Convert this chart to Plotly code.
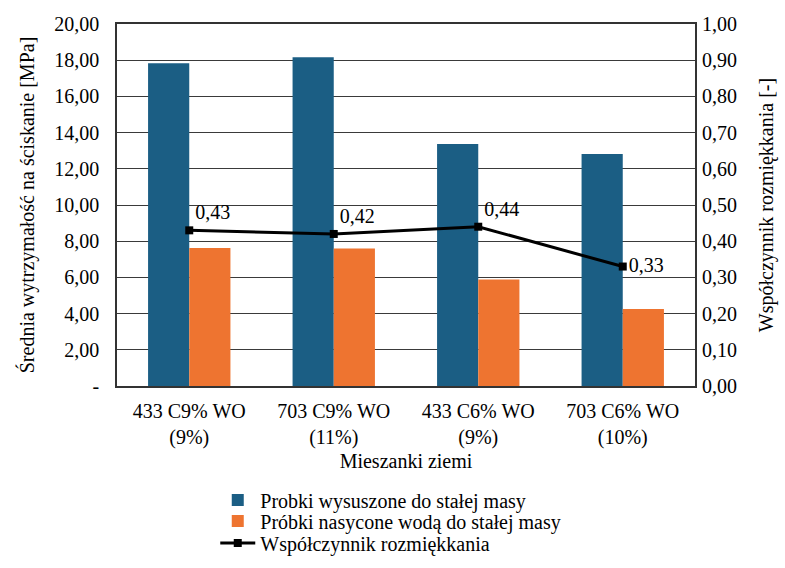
import plotly.graph_objects as go

# Soil mixtures and measured values
categories = ["433 C9% WO<br>(9%)", "703 C9% WO<br>(11%)", "433 C6% WO<br>(9%)", "703 C6% WO<br>(10%)"]
dry_strength = [17.83, 18.16, 13.37, 12.82]        # MPa, dried to constant mass
saturated_strength = [7.62, 7.59, 5.89, 4.25]      # MPa, saturated to constant mass
softening_coef = [0.43, 0.42, 0.44, 0.33]          # softening coefficient [-]

left_ticks = [0, 2, 4, 6, 8, 10, 12, 14, 16, 18, 20]
left_ticktext = ["-", "2,00", "4,00", "6,00", "8,00", "10,00", "12,00", "14,00", "16,00", "18,00", "20,00"]
right_ticks = [0, 0.1, 0.2, 0.3, 0.4, 0.5, 0.6, 0.7, 0.8, 0.9, 1.0]

BLUE = "#1B5E84"
ORANGE = "#EE7430"
FONT = "Liberation Serif"
FS = 20


def tf(size=FS):
    return dict(family=FONT, size=size, color="black")


fig = go.Figure()
fig.add_trace(go.Bar(
    x=categories, y=dry_strength, name="Probki wysuszone do stałej masy",
    marker=dict(color=BLUE, line=dict(width=0)), legend="legend",
))
fig.add_trace(go.Bar(
    x=categories, y=saturated_strength, name="Próbki nasycone wodą do stałej masy",
    marker=dict(color=ORANGE, line=dict(width=0)), legend="legend2",
))
fig.add_trace(go.Scatter(
    x=categories, y=softening_coef, name="Współczynnik rozmiękkania",
    yaxis="y2", mode="lines+markers+text",
    line=dict(color="black", width=3),
    marker=dict(symbol="square", size=8, color="black"),
    text=[f"{v:.2f}".replace(".", ",") for v in softening_coef],
    textposition=["top right", "top right", "top right", "middle right"],
    textfont=tf(20),
    cliponaxis=False, legend="legend3",
))


def legend_row(ypos):
    # one legend row, placed in container coordinates below the plot
    return dict(
        orientation="v", x=0.17, y=ypos, xanchor="left", yanchor="middle",
        xref="paper", yref="container",
        font=tf(), itemwidth=35, bgcolor="rgba(0,0,0,0)",
    )


fig.update_layout(
    width=785, height=568,
    margin=dict(l=117, r=90, t=24, b=182, autoexpand=False),
    paper_bgcolor="white", plot_bgcolor="white",
    font=tf(),
    barmode="group", bargap=0.43, bargroupgap=0,
    xaxis=dict(
        title=dict(text="Mieszanki ziemi", font=tf(), standoff=6),
        showline=True, linecolor="#333", linewidth=1.5, mirror=True,
        ticks="", tickfont=tf(), ticklabelstandoff=6,
    ),
    yaxis=dict(
        title=dict(text="Średnia wytrzymałość na ściskanie [MPa]", font=tf(), standoff=14),
        range=[0, 20], tickvals=left_ticks, ticktext=left_ticktext,
        showgrid=True, gridcolor="#3a3a3a", gridwidth=1.2,
        showline=True, linecolor="#333", linewidth=1.5, mirror=True,
        ticks="", tickfont=tf(), zeroline=False, ticklabelstandoff=12,
    ),
    yaxis2=dict(
        title=dict(text="Współczynnik rozmiękkania [-]", font=tf(), standoff=22),
        overlaying="y", side="right", range=[0, 1],
        tickvals=right_ticks,
        ticktext=[f"{v:.2f}".replace(".", ",") for v in right_ticks],
        showgrid=False, zeroline=False, ticks="", tickfont=tf(), ticklabelstandoff=6,
    ),
    legend=legend_row(1 - 500 / 568),
    legend2=legend_row(1 - 521 / 568),
    legend3=legend_row(1 - 543 / 568),
    showlegend=True,
)

fig.write_html("out.html")
